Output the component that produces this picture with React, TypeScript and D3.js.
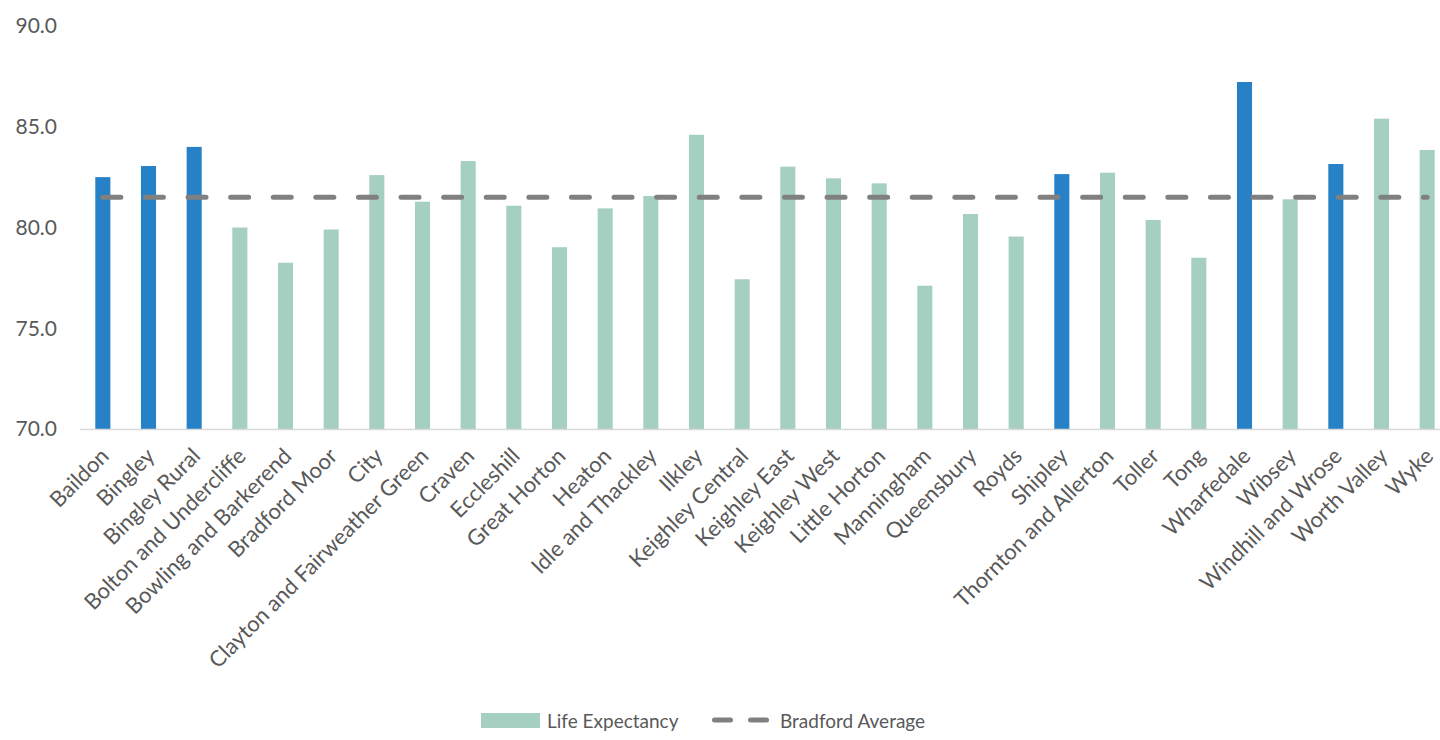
import { useEffect, useRef } from 'react';
import * as d3 from 'd3';

const wards = [
  'Baildon', 'Bingley', 'Bingley Rural', 'Bolton and Undercliffe', 'Bowling and Barkerend',
  'Bradford Moor', 'City', 'Clayton and Fairweather Green', 'Craven', 'Eccleshill',
  'Great Horton', 'Heaton', 'Idle and Thackley', 'Ilkley', 'Keighley Central',
  'Keighley East', 'Keighley West', 'Little Horton', 'Manningham', 'Queensbury',
  'Royds', 'Shipley', 'Thornton and Allerton', 'Toller', 'Tong',
  'Wharfedale', 'Wibsey', 'Windhill and Wrose', 'Worth Valley', 'Wyke',
];

const lifeExpectancy = [
  82.5, 83.05, 84.0, 80.0, 78.25,
  79.9, 82.6, 81.28, 83.3, 81.08,
  79.02, 80.95, 81.56, 84.6, 77.43,
  83.02, 82.44, 82.19, 77.11, 80.67,
  79.55, 82.65, 82.72, 80.37, 78.5,
  87.22, 81.4, 83.15, 85.4, 83.85,
];

const bradfordAverage = 81.5;

const highlighted = ['Baildon', 'Bingley', 'Bingley Rural', 'Shipley', 'Wharfedale', 'Windhill and Wrose'];

const yTicks = [70, 75, 80, 85, 90];

const FONT = 'Lato, "Open Sans", sans-serif';
const TEXT = '#595959';

export default function App() {
  const svgRef = useRef<SVGSVGElement>(null);
  const width = 1440;
  const height = 740;

  useEffect(() => {
    if (!svgRef.current) return;
    const svg = d3.select(svgRef.current);
    svg.selectAll('*').remove();

    const x = d3.scaleBand<string>()
      .domain(wards)
      .range([80, 1450])
      .paddingInner(0.67)
      .paddingOuter(0.335);

    const y = d3.scaleLinear().domain([70, 90]).range([429, 26]);

    // y axis labels (no line, no ticks)
    svg.append('g')
      .selectAll('text')
      .data(yTicks)
      .enter()
      .append('text')
      .attr('x', 57)
      .attr('y', d => y(d))
      .attr('dy', '0.35em')
      .attr('text-anchor', 'end')
      .attr('font-size', '21px')
      .attr('fill', TEXT)
      .style('font-family', FONT)
      .text(d => d.toFixed(1));

    // bars
    svg.append('g')
      .selectAll('rect')
      .data(wards)
      .enter()
      .append('rect')
      .attr('x', d => x(d)!)
      .attr('width', x.bandwidth())
      .attr('y', (d, i) => y(lifeExpectancy[i]))
      .attr('height', (d, i) => y(70) - y(lifeExpectancy[i]))
      .attr('fill', d => (highlighted.includes(d) ? '#2781C6' : '#A5CFC0'));

    // x axis line
    svg.append('line')
      .attr('x1', 80)
      .attr('x2', 1440)
      .attr('y1', y(70) + 0.5)
      .attr('y2', y(70) + 0.5)
      .attr('stroke', '#D9D9D9')
      .attr('stroke-width', 1.5);

    // Bradford average dashed line
    const line = d3.line<string>()
      .x(d => x(d)! + x.bandwidth() / 2)
      .y(() => y(bradfordAverage));

    svg.append('path')
      .attr('d', line(wards))
      .attr('fill', 'none')
      .attr('stroke', '#808080')
      .attr('stroke-width', 5)
      .attr('stroke-linecap', 'round')
      .attr('stroke-dasharray', '18 24.6');

    // rotated category labels
    svg.append('g')
      .selectAll('text')
      .data(wards)
      .enter()
      .append('text')
      .attr('transform', d => `translate(${x(d)! + x.bandwidth() / 2 + 2}, 452) rotate(-45)`)
      .attr('text-anchor', 'end')
      .attr('dy', '0.35em')
      .attr('font-size', '22px')
      .attr('fill', TEXT)
      .style('font-family', FONT)
      .text(d => d);

    // legend
    const legend = svg.append('g');
    legend.append('rect')
      .attr('x', 481)
      .attr('y', 713)
      .attr('width', 59)
      .attr('height', 15)
      .attr('fill', '#A5CFC0');
    legend.append('text')
      .attr('x', 547)
      .attr('y', 728)
      .attr('font-size', '19px')
      .attr('fill', TEXT)
      .style('font-family', FONT)
      .text('Life Expectancy');
    legend.append('line')
      .attr('x1', 714.5)
      .attr('x2', 767.5)
      .attr('y1', 720)
      .attr('y2', 720)
      .attr('stroke', '#808080')
      .attr('stroke-width', 5)
      .attr('stroke-linecap', 'round')
      .attr('stroke-dasharray', '16 20');
    legend.append('text')
      .attr('x', 780)
      .attr('y', 728)
      .attr('font-size', '19px')
      .attr('fill', TEXT)
      .style('font-family', FONT)
      .text('Bradford Average');
  }, []);

  return (
    <div style={{ position: 'absolute', left: 0, top: 0 }}>
      <svg ref={svgRef} width={width} height={height} style={{ display: 'block', background: '#fff' }} />
    </div>
  );
}
